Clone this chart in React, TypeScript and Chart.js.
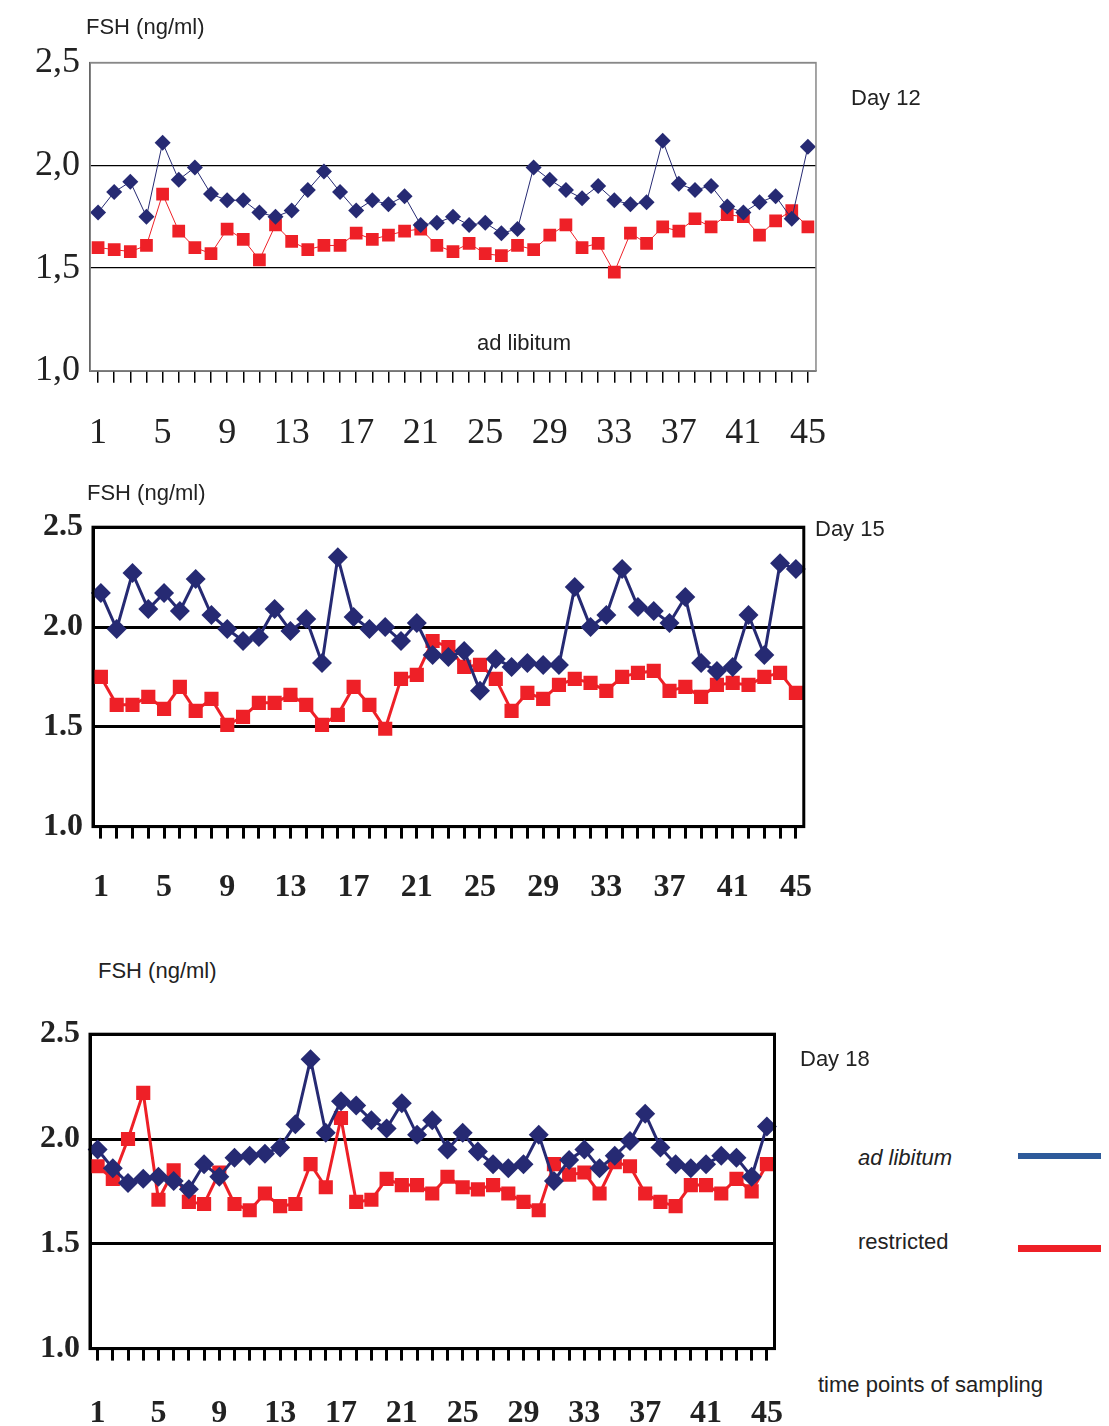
import React, { useEffect, useRef } from 'react';
import { Chart, registerables } from 'chart.js';

Chart.register(...registerables);

const points = Array.from({ length: 45 }, (_, i) => String(i + 1));
const yTicks = [1.0, 1.5, 2.0, 2.5];

const day12AdLib = [1.77, 1.87, 1.92, 1.75, 2.11, 1.93, 1.99, 1.86, 1.83, 1.83, 1.77, 1.75, 1.78, 1.88, 1.97, 1.87, 1.78, 1.83, 1.81, 1.85, 1.71, 1.72, 1.75, 1.71, 1.72, 1.67, 1.69, 1.99, 1.93, 1.88, 1.84, 1.90, 1.83, 1.81, 1.82, 2.12, 1.91, 1.88, 1.90, 1.80, 1.77, 1.82, 1.85, 1.74, 2.09];
const day12Restr = [1.60, 1.59, 1.58, 1.61, 1.86, 1.68, 1.60, 1.57, 1.69, 1.64, 1.54, 1.71, 1.63, 1.59, 1.61, 1.61, 1.67, 1.64, 1.66, 1.68, 1.69, 1.61, 1.58, 1.62, 1.57, 1.56, 1.61, 1.59, 1.66, 1.71, 1.60, 1.62, 1.48, 1.67, 1.62, 1.70, 1.68, 1.74, 1.70, 1.76, 1.75, 1.66, 1.73, 1.78, 1.70];

const day15AdLib = [2.17, 1.99, 2.27, 2.09, 2.17, 2.08, 2.24, 2.06, 1.99, 1.93, 1.95, 2.09, 1.98, 2.04, 1.82, 2.35, 2.05, 1.99, 2.0, 1.93, 2.02, 1.86, 1.85, 1.88, 1.68, 1.84, 1.80, 1.82, 1.81, 1.81, 2.20, 2.0, 2.06, 2.29, 2.10, 2.08, 2.02, 2.15, 1.82, 1.78, 1.80, 2.06, 1.86, 2.32, 2.29];
const day15Restr = [1.75, 1.61, 1.61, 1.65, 1.59, 1.70, 1.58, 1.64, 1.51, 1.55, 1.62, 1.62, 1.66, 1.61, 1.51, 1.56, 1.70, 1.61, 1.49, 1.74, 1.76, 1.93, 1.90, 1.80, 1.81, 1.74, 1.58, 1.67, 1.64, 1.71, 1.74, 1.72, 1.68, 1.75, 1.77, 1.78, 1.68, 1.70, 1.65, 1.71, 1.72, 1.71, 1.75, 1.77, 1.67];

const day18AdLib = [1.95, 1.86, 1.79, 1.81, 1.82, 1.80, 1.76, 1.88, 1.82, 1.91, 1.92, 1.93, 1.96, 2.07, 2.38, 2.03, 2.18, 2.16, 2.09, 2.05, 2.17, 2.02, 2.09, 1.95, 2.03, 1.94, 1.88, 1.86, 1.88, 2.02, 1.80, 1.90, 1.95, 1.86, 1.92, 1.99, 2.12, 1.96, 1.88, 1.86, 1.88, 1.92, 1.91, 1.82, 2.06];
const day18Restr = [1.87, 1.81, 2.0, 2.22, 1.71, 1.85, 1.70, 1.69, 1.84, 1.69, 1.66, 1.74, 1.68, 1.69, 1.88, 1.77, 2.10, 1.70, 1.71, 1.81, 1.78, 1.78, 1.74, 1.82, 1.77, 1.76, 1.78, 1.74, 1.70, 1.66, 1.88, 1.83, 1.84, 1.74, 1.89, 1.87, 1.74, 1.70, 1.68, 1.78, 1.78, 1.74, 1.81, 1.75, 1.88];

const BLUE = '#262a73';
const RED = '#ee2027';

type PanelProps = {
  adLib: number[];
  restr: number[];
  left: number; top: number; width: number; height: number;
  bold: boolean;
  comma: boolean;
  border: number;
  lineW: number;
  diamond: number;
  square: number;
  yWidth: number;
  labelPad: number;
};

const Panel: React.FC<PanelProps> = (p) => {
  const ref = useRef<HTMLCanvasElement>(null);
  useEffect(() => {
    if (!ref.current) return;
    const font = { family: 'Liberation Serif', size: p.bold ? 32 : 36, weight: p.bold ? 'bold' as const : 'normal' as const };
    const chart = new Chart(ref.current, {
      type: 'line',
      data: {
        labels: points,
        datasets: [
          { data: p.adLib, borderColor: BLUE, backgroundColor: BLUE, borderWidth: p.lineW, pointStyle: 'rectRot', pointRadius: p.diamond, pointBorderWidth: 0, tension: 0 },
          { data: p.restr, borderColor: RED, backgroundColor: RED, borderWidth: p.lineW, pointStyle: 'rect', pointRadius: p.square, pointBorderWidth: 0, tension: 0 },
        ],
      },
      options: {
        animation: false,
        responsive: false,
        layout: { padding: { top: 0, right: 0 } },
        plugins: { legend: { display: false }, tooltip: { enabled: false } },
        scales: {
          x: {
            offset: true,
            border: { color: '#000', width: p.border },
            grid: { drawOnChartArea: false, color: '#000', lineWidth: p.bold ? 3 : 1.5, tickLength: 12, offset: false },
            ticks: {
              autoSkip: false, maxRotation: 0, color: '#222', font, padding: p.labelPad,
              callback: (_v, i) => (i % 4 === 0 ? points[i] : ''),
            },
          },
          y: {
            min: 1, max: 2.5,
            afterBuildTicks: (a) => { a.ticks = yTicks.map((v) => ({ value: v })); },
            afterFit: (a) => { a.width = p.yWidth; },
            border: { color: '#000', width: p.border },
            grid: { color: '#000', lineWidth: p.bold ? 3 : 1.2, drawTicks: false },
            ticks: {
              color: '#222', font, padding: 10,
              callback: (v) => { const s = Number(v).toFixed(1); return p.comma ? s.replace('.', ',') : s; },
            },
          },
        },
      },
      plugins: [{
        id: 'frame',
        afterDraw: (c) => {
          const { ctx, chartArea: a } = c;
          ctx.save();
          ctx.strokeStyle = p.comma ? '#888' : '#000';
          ctx.lineWidth = p.border;
          ctx.strokeRect(a.left, a.top, a.right - a.left, a.bottom - a.top);
          ctx.restore();
        },
      }],
    });
    return () => chart.destroy();
  }, []);
  return (
    <canvas ref={ref} width={p.width} height={p.height}
      style={{ position: 'absolute', left: p.left, top: p.top, width: p.width, height: p.height }} />
  );
};

const txt = (left: number, top: number, s: string, extra: React.CSSProperties = {}) => (
  <div style={{ position: 'absolute', left, top, fontFamily: 'Liberation Sans, Arial', fontSize: 22, color: '#222', whiteSpace: 'nowrap', ...extra }}>{s}</div>
);

export default function App() {
  return (
    <div style={{ position: 'relative', width: 1109, height: 1434, margin: -8, background: '#fff', overflow: 'hidden' }}>
      <Panel adLib={day12AdLib} restr={day12Restr} left={0} top={31} width={855} height={453} bold={false} comma border={1.5} lineW={1} diamond={8} square={9} yWidth={90} labelPad={29} />
      <Panel adLib={day15AdLib} restr={day15Restr} left={0} top={498} width={842} height={439} bold comma={false} border={3} lineW={3} diamond={10} square={10} yWidth={93} labelPad={30} />
      <Panel adLib={day18AdLib} restr={day18Restr} left={0} top={1005} width={817} height={462} bold comma={false} border={3} lineW={3} diamond={10} square={10} yWidth={90} labelPad={34} />

      {txt(86, 14, 'FSH (ng/ml)')}
      {txt(851, 85, 'Day 12')}
      {txt(477, 330, 'ad libitum')}
      {txt(87, 480, 'FSH (ng/ml)')}
      {txt(815, 516, 'Day 15')}
      {txt(98, 958, 'FSH (ng/ml)')}
      {txt(800, 1046, 'Day 18')}
      {txt(858, 1145, 'ad libitum', { fontStyle: 'italic' })}
      {txt(858, 1229, 'restricted')}
      {txt(818, 1372, 'time points of sampling')}
      <div style={{ position: 'absolute', left: 1018, top: 1153, width: 91, height: 6, background: '#2e5a9a' }} />
      <div style={{ position: 'absolute', left: 1018, top: 1245, width: 91, height: 7, background: RED }} />
    </div>
  );
}
